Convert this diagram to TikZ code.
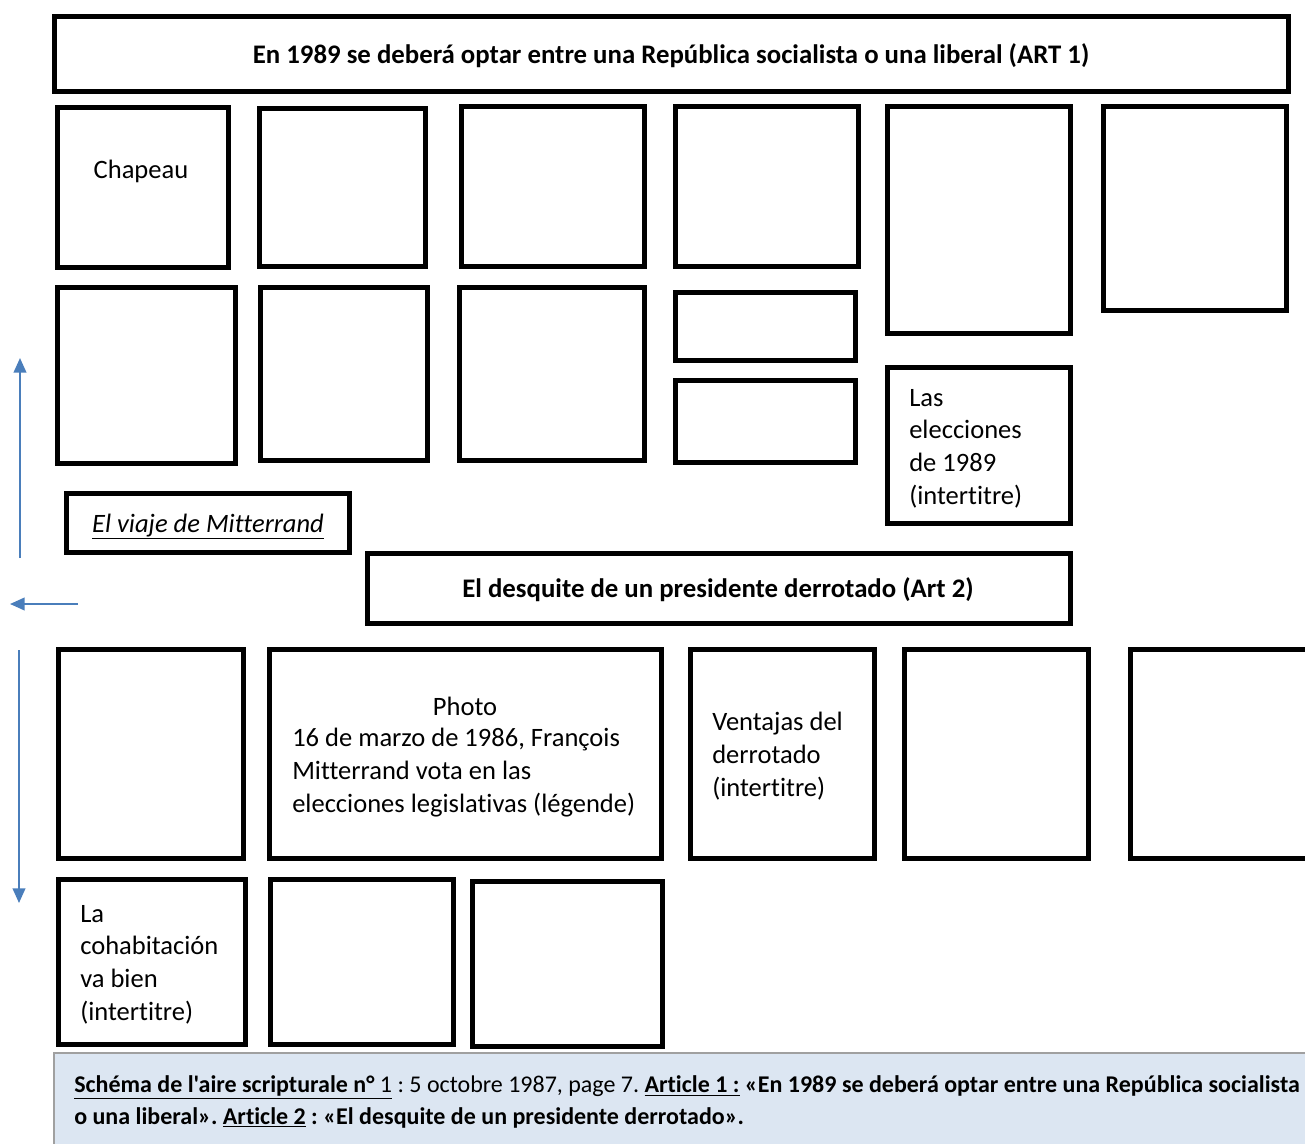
\documentclass[tikz,border=0pt]{standalone}
\usepackage{fontspec}
\setmainfont{Carlito}[Ligatures={TeXOff,NoCommon}]
\usetikzlibrary{arrows.meta}
\frenchspacing

\definecolor{arrowblue}{RGB}{74,126,187}
\definecolor{notefill}{RGB}{220,230,242}
\definecolor{notegray}{RGB}{160,160,160}

\begin{document}
\begin{tikzpicture}[x=0.75pt,y=0.75pt,yscale=-1,xscale=1,
  box/.style={draw=black,line width=3.75pt},
  txt/.style={inner sep=0pt,font={\fontsize{19.9}{24.4}\selectfont},align=left},
  bold/.style={txt,font={\fontsize{20.1}{24.4}\selectfont\bfseries}},
  flow/.style={draw=arrowblue,line width=1.5pt,-{Triangle[length=11pt,width=9.5pt]}}]
\useasboundingbox (0,0) rectangle (1305,1144);

%Shape: Rectangle (ART 1 title)
\draw [box] (54,17) rectangle (1288,92) ;
% Text Node
\node (art1) at (671,64) [bold,anchor=base] {En 1989 se deberá optar entre una República socialista o una liberal (ART 1)};

%Shapes: first row
\draw [box] (57,108) rectangle (228,268) ;
\draw [box] (259,109) rectangle (425,267) ;
\draw [box] (461,107) rectangle (644,267) ;
\draw [box] (675,107) rectangle (858,267) ;
\draw [box] (887,107) rectangle (1070,334) ;
\draw [box] (1103,107) rectangle (1286,311) ;
% Text Node
\node (chapeau) at (141,179) [txt,anchor=base] {Chapeau};

%Shapes: second row
\draw [box] (57,288) rectangle (235,463) ;
\draw [box] (260,288) rectangle (427,460) ;
\draw [box] (459,288) rectangle (644,460) ;
\draw [box] (675,293) rectangle (855,361) ;
\draw [box] (675,381) rectangle (855,462) ;
\draw [box] (887,368) rectangle (1070,523) ;
% Text Node (base = last line)
\node (elecciones) at (909,504) [txt,anchor=base west] {Las\\elecciones\\de 1989\\(intertitre)};

%Shape: Rectangle (viaje)
\draw [box] (66,493) rectangle (349,552) ;
% Text Node
\node (viaje) at (208,532) [txt,anchor=base] {\underline{\itshape El viaje de Mitterrand}};

%Shape: Rectangle (Art 2 title)
\draw [box] (367,553) rectangle (1070,623) ;
% Text Node
\node (art2) at (718,597) [bold,anchor=base] {El desquite de un presidente derrotado (Art 2)};

%Shapes: third row
\draw [box] (58,649) rectangle (243,858) ;
\draw [box] (269,649) rectangle (661,858) ;
\draw [box] (690,649) rectangle (874,858) ;
\draw [box] (904,649) rectangle (1088,858) ;
\draw [box] (1130,649) rectangle (1320,858) ;
% Text Node
\node (photo) at (465,715) [txt,anchor=base] {Photo};
\node (legende) at (292,812) [txt,anchor=base west] {16 de marzo de 1986, François\\Mitterrand vota en las\\elecciones legislativas (légende)};
\node (ventajas) at (712,796) [txt,anchor=base west] {Ventajas del\\derrotado\\(intertitre)};

%Shapes: fourth row
\draw [box] (58,879) rectangle (245,1044) ;
\draw [box] (270,879) rectangle (453,1044) ;
\draw [box] (472,881) rectangle (662,1046) ;
% Text Node
\node (cohabitacion) at (80,1020) [txt,anchor=base west] {La\\cohabitación\\va bien\\(intertitre)};

%Reading order arrows
\coordinate (upS) at (20,558);
\coordinate (upE) at (20,358);
\coordinate (leftS) at (78,604);
\coordinate (leftE) at (10,604);
\coordinate (downS) at (19,650);
\coordinate (downE) at (19,903);
\draw [flow] (upS) -- (upE) ;
\draw [flow] (leftS) -- (leftE) ;
\draw [flow] (downS) -- (downE) ;

%Caption
\draw [fill=notefill,draw=notegray,line width=1.5pt] (54,1053) rectangle (1330,1170) ;
% Text Node
\node (caption) at (74,1124) [txt,anchor=base west,font={\fontsize{18}{23.3}\selectfont}] {\underline{\bfseries Schéma de l'aire scripturale n°\mdseries\ 1} : 5 octobre 1987, page 7. \underline{\bfseries Article 1 :} \textbf{«En 1989 se deberá optar entre una República socialista}\\\textbf{o una liberal». \underline{Article 2} : «El desquite de un presidente derrotado».}};

\end{tikzpicture}
\end{document}
